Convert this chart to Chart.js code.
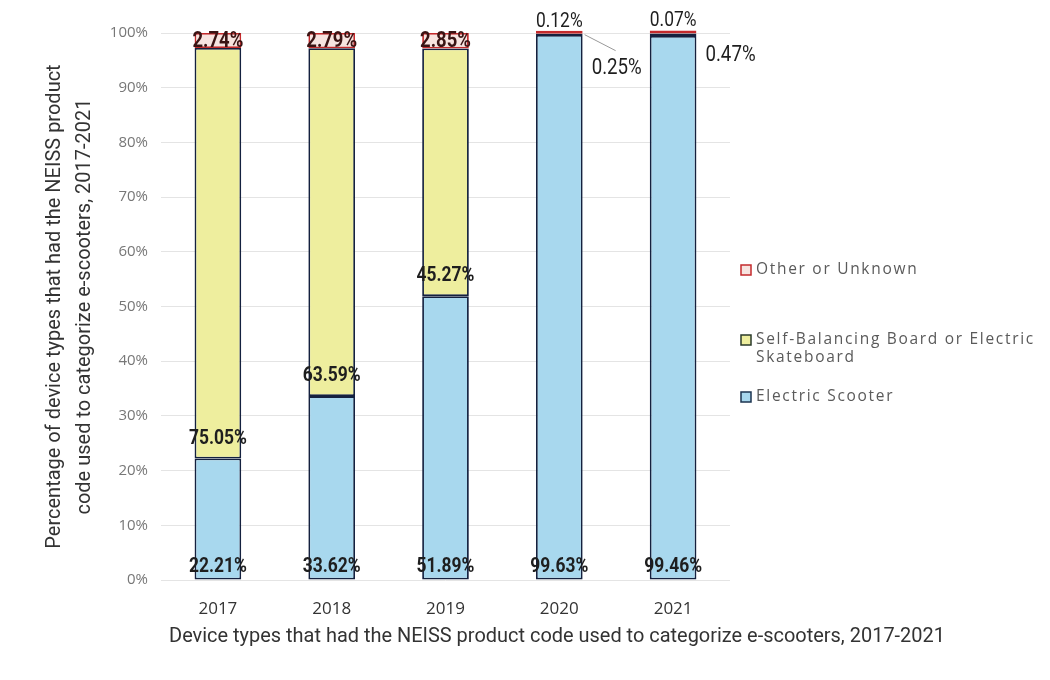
<!DOCTYPE html>
<html>
<head>
<meta charset="utf-8">
<script src="https://cdn.jsdelivr.net/npm/chart.js@4.4.1/dist/chart.umd.min.js"></script>
<style>
  html,body{margin:0;padding:0;background:#fff;}
  #wrap{width:1050px;height:680px;position:relative;}
</style>
</head>
<body>
<div id="wrap"><canvas id="chart" width="1050" height="680"></canvas></div>
<script>
// Datos (porcentaje por año)
const years = ['2017','2018','2019','2020','2021'];
const scooter = [22.21, 33.62, 51.89, 99.63, 99.46];
const boards  = [75.05, 63.59, 45.27, 0.25, 0.47];
const other   = [2.74, 2.79, 2.85, 0.12, 0.07];
const seriesNames = ['Electric Scooter', 'Self-Balancing Board or Electric Skateboard', 'Other or Unknown'];
const yTicks = [0,10,20,30,40,50,60,70,80,90,100];

const COL = {
  blue:'#a8d8ee', yellow:'#eeee9e', red:'#f7e4e0',
  navy:'#14213f', redLine:'#c42a2c', text:'#1e1e1e', grid:'#e4e4e4'
};

// texto "condensado" (escala horizontal)
function condText(ctx, txt, x, y, font, align, sx, spacing){
  ctx.save();
  ctx.font = font;
  ctx.textAlign = align || 'center';
  ctx.textBaseline = 'middle';
  if (spacing) ctx.letterSpacing = spacing;
  ctx.translate(x, y);
  ctx.scale(sx || 0.8, 1);
  ctx.fillText(txt, 0, 0);
  ctx.restore();
}

// Etiquetas de datos
const labelsPlugin = {
  id:'barLabels',
  afterDatasetsDraw(chart){
    const ctx = chart.ctx;
    const bold = 'bold 21px Roboto';
    const mS = chart.getDatasetMeta(0), mB = chart.getDatasetMeta(1), mO = chart.getDatasetMeta(2);
    const fmt = v => v.toFixed(2)+'%';
    years.forEach((y,i)=>{
      const s = mS.data[i], b = mB.data[i], o = mO.data[i];
      ctx.fillStyle = COL.text;
      condText(ctx, fmt(scooter[i]), s.x, s.base - 13, bold, 'center', 0.83);
      if (boards[i] >= 1){
        condText(ctx, fmt(boards[i]), b.x, b.base - 20, bold, 'center', 0.83);
      } else {
        const dy = i === 3 ? 35 : 22;
        condText(ctx, fmt(boards[i]), b.x + b.width/2 + 9, b.y + dy, '22px Roboto', 'left', 0.85);
        if (i === 3){
          ctx.save();
          ctx.strokeStyle = '#999'; ctx.lineWidth = 1;
          ctx.beginPath(); ctx.moveTo(b.x + b.width/2 + 2, b.y + 1); ctx.lineTo(b.x + b.width/2 + 33, b.y + 17); ctx.stroke();
          ctx.restore();
        }
      }
      if (other[i] >= 1){
        ctx.fillStyle = '#3a1414';
        condText(ctx, fmt(other[i]), o.x, (o.y + o.base)/2 + 1, 'bold 22px Roboto', 'center', 0.84);
      } else {
        ctx.fillStyle = COL.text;
        condText(ctx, fmt(other[i]), o.x, o.y - 9, '20px Roboto', 'center', 0.87);
      }
    });
  }
};

// Leyenda y título X dibujados a mano
const extrasPlugin = {
  id:'extras',
  afterDraw(chart){
    const ctx = chart.ctx;
    const a = chart.chartArea;
    const lx = a.right + 11;
    const items = [
      {fill:COL.red, line:COL.redLine, lines:['Other or Unknown'], y:270},
      {fill:COL.yellow, line:'#2a3a2a', lines:['Self-Balancing Board or Electric','Skateboard'], y:340},
      {fill:COL.blue, line:'#1c3550', lines:['Electric Scooter'], y:397}
    ];
    ctx.save();
    items.forEach(it=>{
      ctx.fillStyle = it.fill; ctx.fillRect(lx, it.y-5, 10, 10);
      ctx.strokeStyle = it.line; ctx.lineWidth = 1.5; ctx.strokeRect(lx, it.y-5, 10, 10);
      ctx.fillStyle = '#5a5a5a';
      it.lines.forEach((t,k)=> condText(ctx, t, lx + 15, it.y + k*18, '15.5px "Open Sans"', 'left', 1, '1.7px'));
    });
    ctx.fillStyle = '#333';
    condText(ctx, 'Device types that had the NEISS product code used to categorize e-scooters, 2017-2021',
      557, 637, '21px Roboto', 'center', 0.95);
    ctx.restore();
  }
};

const ds = [
  {label:seriesNames[0], data:scooter, backgroundColor:COL.blue, borderColor:COL.navy},
  {label:seriesNames[1], data:boards, backgroundColor:COL.yellow, borderColor:COL.navy},
  {label:seriesNames[2], data:other, borderColor:COL.redLine, minBarLength:3, clip:false,
    backgroundColor:(c)=> (c.raw < 1 ? COL.redLine : COL.red)}
].map(d=>Object.assign(d,{borderWidth:1.8, borderSkipped:false, barPercentage:0.41, categoryPercentage:1}));

new Chart(document.getElementById('chart'), {
  type:'bar',
  data:{labels:years, datasets:ds},
  plugins:[labelsPlugin, extrasPlugin],
  options:{
    responsive:false,
    animation:false,
    layout:{padding:{top:33, right:320, bottom:0, left:0}},
    plugins:{legend:{display:false}, tooltip:{enabled:false}},
    scales:{
      x:{
        stacked:true,
        grid:{display:false}, border:{display:false},
        ticks:{color:'#333', font:{family:'"Open Sans"', size:17}, padding:11},
        afterFit:(s)=>{ s.height = 100; }
      },
      y:{
        stacked:true, min:0, max:100,
        afterBuildTicks:(s)=>{ s.ticks = yTicks.map(v=>({value:v})); },
        grid:{color:COL.grid, drawTicks:false}, border:{display:false},
        ticks:{color:'#777', font:{family:'"Open Sans"', size:15}, padding:13, callback:v=>v+'%'},
        title:{display:true, text:['Percentage of device types that had the NEISS product','code used to categorize e-scooters, 2017-2021'],
          color:'#333', font:{family:'Roboto', size:20, lineHeight:1.5}, padding:{top:40, bottom:0}},
        afterFit:(s)=>{ s.width = 161; }
      }
    }
  }
});
</script>
</body>
</html>
